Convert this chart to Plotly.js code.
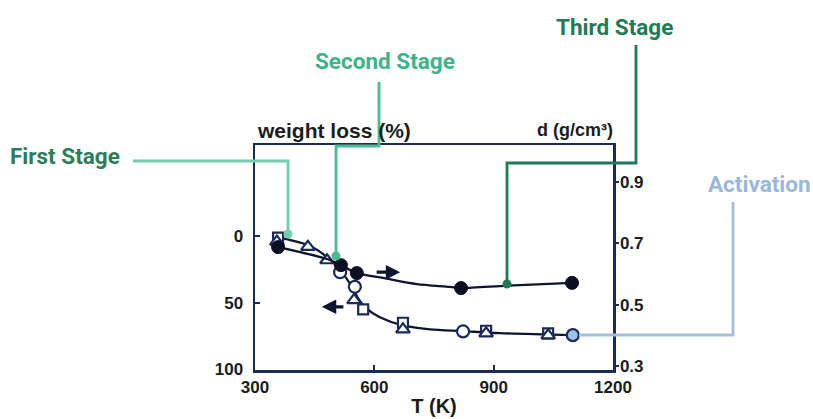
<!DOCTYPE html>
<html><head><meta charset="utf-8">
<script src="https://cdn.plot.ly/plotly-3.0.1.min.js"></script>
<style>html,body{margin:0;padding:0;background:#fff;} #chart{width:813px;height:419px;}</style>
</head><body><div id="chart"></div>
<script>
// ---- data ----
const xTicks = [300, 600, 900, 1200];
const wTicks = [0, 50, 100];
const dTicks = [0.3, 0.5, 0.7, 0.9];
const dTickText = ['0.3', '0.5', '0.7', '0.9'];

// weight loss (%) – open symbols, left axis
const sqT = [358, 572, 672, 881, 1037];
const sqW = [1, 55, 65, 71, 73];
const triT = [355, 433, 481, 549, 672, 881, 1037];
const triW = [4, 8, 18, 48, 70, 73, 74.5];
const circT = [514, 551, 823, 1099];
const circW = [27, 38, 71.5, 74.3];
// density d (g/cm3) – filled circles, right axis
const denT = [358, 516, 556, 818, 1097];
const denD = [0.688, 0.629, 0.603, 0.554, 0.571];

// hand-drawn fit curves
const wCurveT = [355, 433, 481, 516, 544, 559, 579, 614, 672, 740, 823, 916, 1099];
const wCurveW = [0.6, 6.6, 15.6, 26, 38.2, 46.5, 54, 60.8, 67, 70, 71.3, 72.8, 74.3];
const dCurveT = [358, 481, 516, 556, 622, 707, 790, 818, 934, 1097];
const dCurveD = [0.688, 0.649, 0.629, 0.603, 0.587, 0.567, 0.558, 0.554, 0.562, 0.571];

// ---- styling ----
const NAVY = '#1b2b58';
const INK = '#0d1631';
const TXT = '#1c1c1c';
const SANS = 'Liberation Sans, Arial, sans-serif';
const tickFont = {family: SANS, size: 17, weight: 700, color: TXT};
const stageFont = 'Roboto, sans-serif';

// plot area in pixels: left 255, right 613, top 145, bottom 370
const L = 255, R = 613, T = 145, B = 370;
const X = px => (px - L) / (R - L);
const Y = py => (B - py) / (B - T);
const path = pts => pts.map((p, i) => (i ? 'L' : 'M') + X(p[0]).toFixed(4) + ',' + Y(p[1]).toFixed(4)).join(' ');

const callouts = [
  {pts: [[133,161],[288,161],[288,234]], color: '#72cfae', dot: [288,234]},
  {pts: [[379,82],[379,146],[336,146],[336,256]], color: '#48bb91', dot: [336,256]},
  {pts: [[636,45],[636,163],[507,163],[507,284]], color: '#1e7a56', dot: [507,284]},
  {pts: [[733,202],[733,335],[579,335]], color: '#a3bfe0', dot: null}
];
const shapes = [];
callouts.forEach(c => {
  shapes.push({type: 'path', xref: 'paper', yref: 'paper', path: path(c.pts),
    line: {color: c.color, width: 2.8}, layer: 'above'});
  if (c.dot) shapes.push({type: 'circle', xref: 'paper', yref: 'paper',
    xsizemode: 'pixel', ysizemode: 'pixel', xanchor: X(c.dot[0]), yanchor: Y(c.dot[1]),
    x0: -4.5, x1: 4.5, y0: -4.5, y1: 4.5, fillcolor: c.color, line: {width: 0}, layer: 'above'});
});

const traces = [
  {x: wCurveT, y: wCurveW, mode: 'lines', line: {color: INK, width: 2.3, shape: 'spline', smoothing: 0.8}, hoverinfo: 'skip'},
  {x: dCurveT, y: dCurveD, yaxis: 'y2', mode: 'lines', line: {color: INK, width: 2.3, shape: 'spline', smoothing: 0.8}, hoverinfo: 'skip'},
  {x: sqT, y: sqW, mode: 'markers', marker: {symbol: 'square', size: 10, color: 'white', line: {color: NAVY, width: 2.2}}},
  {x: triT, y: triW, mode: 'markers', marker: {symbol: 'triangle-up', size: 12, color: 'white', line: {color: NAVY, width: 2.2}}},
  {x: circT, y: circW, mode: 'markers', marker: {symbol: 'circle', size: 12, color: ['white','white','white','#9dc1e6'], line: {color: NAVY, width: 2.2}}},
  {x: denT, y: denD, yaxis: 'y2', mode: 'markers', marker: {symbol: 'circle', size: 13, color: '#0a0f22', line: {color: '#0a0f22', width: 1}}}
];

const lab = (px, py, text, size, color, family) => ({xref: 'paper', yref: 'paper', x: X(px), y: Y(py),
  xanchor: 'center', yanchor: 'middle', text: text, showarrow: false,
  font: {family: family, size: size, weight: 700, color: color}});

const annotations = [
  lab(334, 130, 'weight loss (%)', 21, TXT, SANS),
  lab(575, 130, 'd (g/cm³)', 18, TXT, SANS),
  lab(65, 156, 'First Stage', 22.5, '#2b7d5b', stageFont),
  lab(385, 61, 'Second Stage', 22.5, '#3db38a', stageFont),
  lab(614, 27, 'Third Stage', 22.5, '#1f7a56', stageFont),
  lab(759, 184, 'Activation', 22.5, '#9ab7dc', stageFont),
  // direction arrows
  {x: 665, y: 27, ax: 602, ay: 27, xref: 'x', yref: 'y', axref: 'x', ayref: 'y', text: '',
    showarrow: true, arrowhead: 2, arrowsize: 0.9, arrowwidth: 3.2, arrowcolor: INK, standoff: 0},
  {x: 468, y: 53, ax: 526, ay: 53, xref: 'x', yref: 'y', axref: 'x', ayref: 'y', text: '',
    showarrow: true, arrowhead: 2, arrowsize: 0.9, arrowwidth: 3.2, arrowcolor: INK, standoff: 0}
];

const layout = {
  width: 813, height: 419,
  margin: {l: L, r: 813 - R, t: T, b: 419 - B, pad: 0},
  paper_bgcolor: 'white', plot_bgcolor: 'white',
  showlegend: false,
  xaxis: {range: [300, 1200], tickvals: xTicks, ticks: 'inside', ticklen: 5, tickwidth: 2, tickcolor: NAVY,
    showline: true, linecolor: NAVY, linewidth: 2.5, mirror: true, showgrid: false, zeroline: false,
    tickfont: tickFont, title: {text: 'T (K)', font: {family: SANS, size: 20, weight: 700, color: TXT}, standoff: 3}},
  yaxis: {range: [100.5, -68.6], tickvals: wTicks, ticks: 'inside', ticklen: 5, tickwidth: 2, tickcolor: NAVY,
    showline: true, linecolor: NAVY, linewidth: 2.5, showgrid: false, zeroline: false, tickfont: tickFont,
    ticklabelstandoff: 6},
  yaxis2: {range: [0.286, 1.022], overlaying: 'y', side: 'right', tickvals: dTicks, ticktext: dTickText,
    ticks: 'outside', ticklen: 3, tickwidth: 2, tickcolor: NAVY, ticklabelstandoff: -2,
    showline: true, linecolor: NAVY, linewidth: 2.5, showgrid: false, zeroline: false, tickfont: tickFont},
  shapes: shapes,
  annotations: annotations
};

Plotly.newPlot('chart', traces, layout, {displayModeBar: false, staticPlot: true});
</script>
</body></html>
